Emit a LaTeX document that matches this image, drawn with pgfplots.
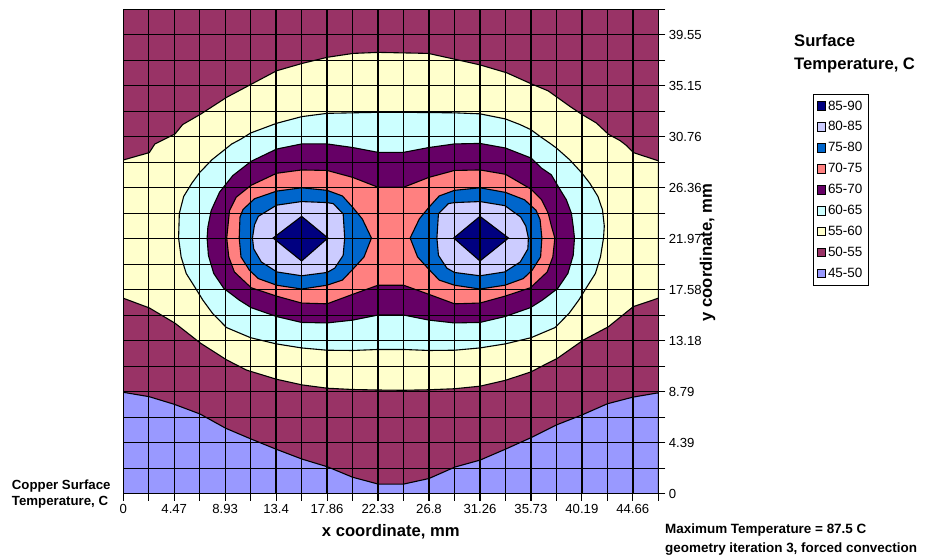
\documentclass[border=0pt]{standalone}
\usepackage{pgfplots}
\pgfplotsset{compat=1.18}
\usepackage{fontspec}
\setmainfont{Liberation Sans}
\definecolor{cA}{HTML}{000080}
\definecolor{cB}{HTML}{CCCCFF}
\definecolor{cC}{HTML}{0066CC}
\definecolor{cD}{HTML}{FF8080}
\definecolor{cE}{HTML}{660066}
\definecolor{cF}{HTML}{CCFFFF}
\definecolor{cG}{HTML}{FFFFCC}
\definecolor{cH}{HTML}{993366}
\definecolor{cI}{HTML}{9999FF}
\begin{document}
\begin{tikzpicture}
\useasboundingbox (0,0) rectangle (935bp,557bp);
\begin{axis}[
  at={(123.3bp,63.2bp)}, anchor=south west,
  scale only axis, width=535bp, height=484.5bp,
  xmin=0, xmax=21, ymin=0, ymax=19,
  axis on top,
  xtick={0,...,21}, ytick={0,...,19},
  xticklabels={0,,4.47,,8.93,,13.4,,17.86,,22.33,,26.8,,31.26,,35.73,,40.19,,44.66,},
  yticklabels={0,,4.39,,8.79,,13.18,,17.58,,21.97,,26.36,,30.76,,35.15,,39.55,},
  xtick pos=left, ytick pos=right, yticklabel pos=right,
  tick align=outside, major tick length=7bp,
  tick style={black, line width=1.2bp},
  grid=major, major grid style={black, line width=1.35bp},
  axis line style={black, line width=1.35bp},
  ticklabel style={font=\fontsize{13.2}{15}\selectfont},
  legend style={at={(1.2886,0.8252)}, anchor=north west, draw=black, line width=0.8bp,
    fill=white, font=\fontsize{13.5}{15}\selectfont, inner xsep=3.5bp, inner ysep=4.3bp,
    row sep=6bp, nodes={inner sep=2bp}, /tikz/every even column/.append style={column sep=0bp}},
  legend cell align=left,
  legend image code/.code={\draw[#1, draw=black, line width=0.7bp] (0bp,-4.3bp) rectangle (8.7bp,4.3bp);},
]
% 50-55 background
\addplot[fill=cH, draw=none, forget plot] coordinates {(0,0) (21,0) (21,19) (0,19)} -- cycle;
% 45-50
\addplot[fill=cI, draw=black, line width=1.1bp, forget plot] coordinates {
(0,0) (0,3.98) (1.01,3.81) (2.0,3.51) (3.01,3.13) (4.02,2.57) (5.01,2.15) (6.02,1.74) (7.02,1.36) (8.01,1.06) (9.0,0.65) (10.01,0.38) (11,0.38) (12,0.6) (13.02,1.05) (14,1.32) (15,1.75) (16,2.2) (17,2.7) (18,3.09) (19,3.53) (20,3.79) (21,3.96) (21,0)} -- cycle;
% 55-60
\addplot[fill=cG, draw=black, line width=1.1bp, forget plot] coordinates {
(0,13.09) (1.02,13.38) (1.24,13.72) (2.03,14.11) (2.33,14.48) (3.04,14.89) (4.06,15.55) (5.04,16.07) (6.02,16.59) (7.03,16.88) (8.02,17.12) (9.02,17.27) (10.01,17.31) (11,17.29) (11.97,17.27) (13.02,17.04) (14.0,16.82) (15.05,16.51) (16.03,16.07) (16.68,15.8) (17.52,15.2) (18.0,14.88) (18.57,14.54) (19.04,14.1) (19.5,13.85) (19.76,13.65) (20.02,13.38) (21,13.06)
(21,7.67) (20.02,7.34) (19.04,6.55) (18.06,6.03) (17.02,5.3) (16.5,5.04) (16.0,4.78) (15.0,4.45) (14.0,4.22) (13.0,4.12) (12.0,4.08) (11.0,4.06) (10.0,4.07) (9.0,4.09) (8.01,4.14) (7.02,4.27) (6.02,4.49) (4.84,4.85) (4.06,5.25) (3.04,5.9) (2.03,6.69) (1.02,7.29) (0,7.67)} -- cycle;
% 60-65
\addplot[fill=cF, draw=black, line width=1.1bp, forget plot] coordinates {
(10.0,14.96) (9.0,14.94) (8.0,14.92) (7.0,14.79) (6.02,14.53) (5.0,14.15) (4.6,13.9) (4.26,13.72) (3.48,13.1) (3.0,12.6) (2.69,12.18) (2.37,11.66) (2.2,11.0) (2.17,10.03) (2.27,9.29) (2.47,8.64) (2.78,8.15) (3.12,7.6) (3.5,7.08) (4.05,6.52) (5.0,6.12) (6.0,5.88) (7.0,5.72) (8.0,5.63) (9.0,5.62) (10.0,5.66) (11.0,5.66) (12.0,5.62) (13.0,5.63) (14.0,5.72) (15.0,5.88) (16.0,6.12) (16.95,6.52) (17.5,7.08) (17.88,7.6) (18.22,8.15) (18.53,8.64) (18.73,9.29) (18.85,10.03) (18.88,10.5) (18.81,11.13) (18.63,11.66) (18.31,12.18) (18.0,12.58) (17.52,13.1) (17.0,13.56) (16.74,13.75) (16.35,14.02) (16.0,14.28) (15.57,14.48) (15.0,14.7) (14.0,14.9) (13.0,14.94) (12.0,14.95) (11.0,14.96)} -- cycle;
% 65-70
\addplot[fill=cE, draw=black, line width=1.1bp, forget plot] coordinates {
(10.0,13.39) (9.0,13.58) (8.0,13.72) (7.0,13.72) (6.02,13.52) (5.02,13.04) (4.30,12.48) (3.78,11.83) (3.45,11.11) (3.32,10.46) (3.29,10.03) (3.34,9.35) (3.55,8.64) (3.95,8.05) (4.56,7.59) (5.02,7.30) (6.02,6.95) (7.0,6.72) (8.0,6.70) (9.0,6.81) (10.0,7.01) (11.0,7.01) (12.0,6.81) (13.0,6.70) (14.0,6.72) (14.98,6.95) (15.98,7.30) (16.44,7.59) (17.05,8.05) (17.45,8.64) (17.66,9.35) (17.71,10.03) (17.66,10.48) (17.59,11.0) (17.39,11.53) (17.07,12.05) (16.8,12.51) (16.42,12.77) (16.0,13.17) (15.0,13.56) (14.0,13.74) (13.0,13.72) (12.0,13.58) (11.0,13.39)} -- cycle;
% 70-75
\addplot[fill=cD, draw=black, line width=1.1bp, forget plot] coordinates {
(10.0,12.02) (9.0,12.41) (8.0,12.68) (7.0,12.70) (6.02,12.57) (5.02,12.1) (4.43,11.63) (4.17,11.11) (4.06,10.03) (4.14,9.29) (4.36,8.70) (5.02,8.08) (6.02,7.75) (7.0,7.48) (8.0,7.45) (9.0,7.82) (10.0,8.18) (11.0,8.18) (12.0,7.82) (13.0,7.45) (14.0,7.48) (14.98,7.75) (15.98,8.08) (16.64,8.70) (16.86,9.29) (16.94,10.03) (16.81,10.48) (16.68,11.0) (16.42,11.53) (16.0,11.95) (15.0,12.53) (14.0,12.70) (13.0,12.68) (12.0,12.41) (11.0,12.02)} -- cycle;
% 75-80
\addplot[fill=cC, draw=black, line width=1.1bp, forget plot] coordinates {
(7.0,12.0) (6.02,11.87) (5.15,11.57) (4.7,11.15) (4.58,10.85) (4.55,10.03) (4.62,9.29) (4.95,8.77) (5.3,8.44) (6.02,8.18) (7.0,8.03) (8.0,8.18) (8.6,8.38) (9.05,8.85) (9.45,9.29) (9.74,10.03) (9.38,10.78) (9.0,11.24) (8.6,11.68) (8.0,11.9)} -- cycle;
\addplot[fill=cC, draw=black, line width=1.1bp, forget plot] coordinates {
(14.0,12.0) (15.0,11.82) (15.75,11.53) (16.2,11.12) (16.36,10.75) (16.43,10.03) (16.38,9.29) (16.05,8.77) (15.7,8.44) (14.98,8.18) (14.0,8.03) (13.0,8.18) (12.4,8.38) (11.95,8.85) (11.55,9.29) (11.26,10.03) (11.62,10.78) (12.0,11.24) (12.4,11.68) (13.0,11.9)} -- cycle;
% 80-85
\addplot[fill=cB, draw=black, line width=1.1bp, forget plot] coordinates {
(7.0,11.46) (6.02,11.32) (5.3,10.88) (5.15,10.55) (5.07,10.03) (5.12,9.6) (5.42,9.09) (6.03,8.70) (7.0,8.55) (8.0,8.68) (8.3,8.85) (8.63,9.35) (8.69,10.03) (8.63,10.98) (8.24,11.38) (8.0,11.42)} -- cycle;
\addplot[fill=cB, draw=black, line width=1.1bp, forget plot] coordinates {
(14.0,11.46) (14.98,11.3) (15.6,10.85) (15.8,10.5) (15.9,10.03) (15.88,9.6) (15.58,9.09) (14.97,8.70) (14.0,8.55) (13.0,8.68) (12.7,8.85) (12.37,9.35) (12.31,10.03) (12.37,10.98) (12.76,11.38) (13.0,11.42)} -- cycle;
% 85-90
\addplot[fill=cA, draw=black, line width=1.1bp, forget plot] coordinates {
(5.88,10.03) (7.0,10.88) (8.03,10.03) (7.0,9.13)} -- cycle;
\addplot[fill=cA, draw=black, line width=1.1bp, forget plot] coordinates {
(12.97,10.03) (14.0,10.88) (15.12,10.03) (14.0,9.13)} -- cycle;
% legend
\addlegendimage{fill=cA}\addlegendentry{85-90}
\addlegendimage{fill=cB}\addlegendentry{80-85}
\addlegendimage{fill=cC}\addlegendentry{75-80}
\addlegendimage{fill=cD}\addlegendentry{70-75}
\addlegendimage{fill=cE}\addlegendentry{65-70}
\addlegendimage{fill=cF}\addlegendentry{60-65}
\addlegendimage{fill=cG}\addlegendentry{55-60}
\addlegendimage{fill=cH}\addlegendentry{50-55}
\addlegendimage{fill=cI}\addlegendentry{45-50}
\end{axis}
\node[anchor=base] at (390.8bp,20.3bp) {\bfseries\fontsize{16.7}{19}\selectfont x coordinate, mm};
\node[rotate=90, anchor=center] at (707.5bp,304.5bp) {\bfseries\fontsize{16.7}{19}\selectfont y coordinate, mm};
\node[anchor=base west, inner sep=0pt] at (794bp,510.3bp) {\bfseries\fontsize{16.7}{19}\selectfont Surface};
\node[anchor=base west, inner sep=0pt] at (794bp,487bp) {\bfseries\fontsize{16.7}{19}\selectfont Temperature, C};
\node[anchor=base west, inner sep=0pt] at (11.7bp,67.7bp) {\bfseries\fontsize{13.3}{16}\selectfont Copper Surface};
\node[anchor=base west, inner sep=0pt] at (11.7bp,51bp) {\bfseries\fontsize{13.3}{16}\selectfont Temperature, C};
\node[anchor=base west, inner sep=0pt] at (665bp,24bp) {\bfseries\fontsize{13.5}{16}\selectfont Maximum Temperature = 87.5 C};
\node[anchor=base west, inner sep=0pt] at (665bp,5bp) {\bfseries\fontsize{13.5}{16}\selectfont geometry iteration 3, forced convection};
\end{tikzpicture}
\end{document}
